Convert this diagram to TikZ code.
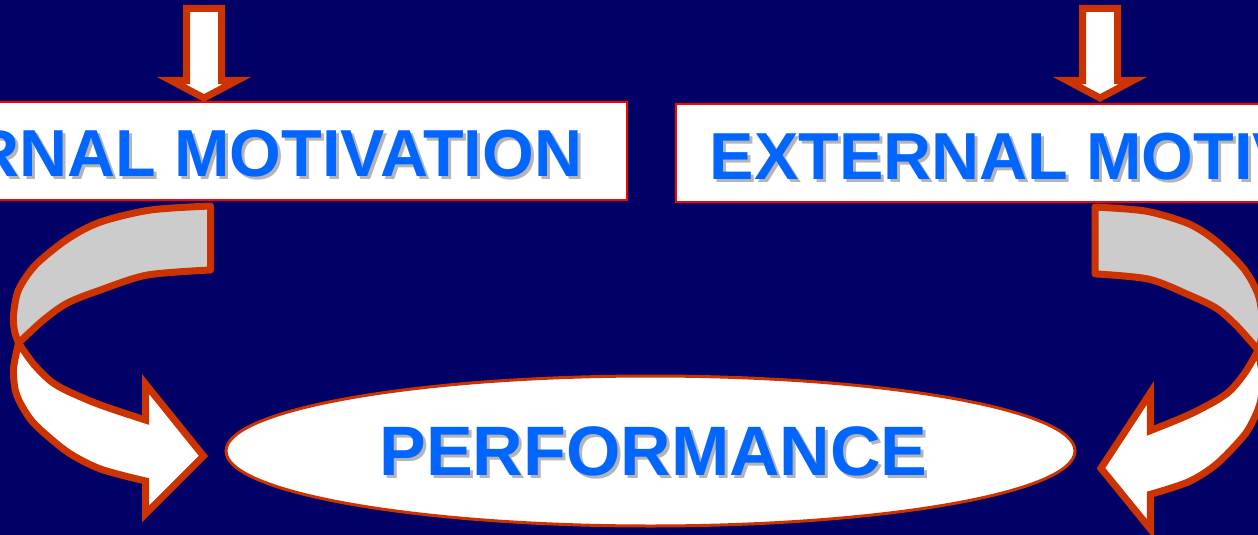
\documentclass[tikz,border=0pt]{standalone}
\usepackage{fontspec}
\setmainfont{Liberation Sans}
\usetikzlibrary{shapes.geometric}
\definecolor{navy}{HTML}{000066}
\definecolor{rust}{HTML}{CC3300}
\definecolor{labelblue}{HTML}{0066FF}
\definecolor{ribbongrey}{HTML}{CCCCCC}
\definecolor{shadowgrey}{HTML}{B4B4B4}
\definecolor{boxred}{HTML}{FF0000}

\tikzset{
  outline/.style={draw=rust, line width=7pt, line join=miter, miter limit=10},
  labelbox/.style={rectangle, draw=boxred, line width=2pt, fill=white,
    minimum width=852pt, minimum height=98pt, inner sep=0pt, outer sep=0pt},
  boxtext/.style={inner sep=0pt, font=\bfseries\fontsize{66.5}{78}\selectfont},
  bigtext/.style={inner sep=0pt, font=\bfseries\fontsize{70}{84}\selectfont},
  % straight block arrow pointing down, origin at its tip
  downarrow/.pic={
    \filldraw[outline, fill=white]
      (-17.5,-89.5) -- (17.5,-89.5) -- (17.5,-17.5) -- (33,-17.5) -- (0,0)
      -- (-33,-17.5) -- (-17.5,-17.5) -- cycle;
  },
  % twisted ribbon arrow, origin at the top of its flat end
  curvedarrow/.pic={
    \filldraw[outline, line join=round, fill=ribbongrey]
      plot[smooth] coordinates {(0,0) (-60,4) (-110,16) (-143,33) (-175,59)
        (-192,84) (-197,109) (-196,125) (-192,137)}
      -- plot[smooth] coordinates {(-192,137) (-167,114) (-143,97) (-110,84)
        (-63,69) (0,64)} -- cycle;
    \filldraw[outline, fill=white]
      plot[smooth] coordinates {(-192,137) (-197,163) (-195,185) (-188,201)
        (-175,219) (-143,246) (-110,263) (-65,275)}
      -- (-65,308) -- (-7,250) -- (-65,178) -- (-65,214)
      -- plot[smooth] coordinates {(-65,214) (-110,199) (-143,185) (-160,175)
        (-177,158) (-192,137)} -- cycle;
  }
}

\begin{document}
\begin{tikzpicture}[x=1pt, y=-1pt]
  \useasboundingbox (0,0) rectangle (1258,535);
  \fill[navy] (0,0) rectangle (1258,535);
  \clip (0,0) rectangle (1258,535);

  % label boxes
  \node[labelbox] (intbox) at (201,151) {};
  \node[labelbox] (extbox) at (1102,153) {};
  \node[boxtext, text=shadowgrey] (intshadow) at (204,156.5) {INTERNAL MOTIVATION};
  \node[boxtext, text=labelblue] (inttext) at (201,153.5) {INTERNAL MOTIVATION};
  \node[boxtext, text=shadowgrey] (extshadow) at (1105,159.5) {EXTERNAL MOTIVATION};
  \node[boxtext, text=labelblue] (exttext) at (1102,156.5) {EXTERNAL MOTIVATION};

  % arrows feeding the boxes
  \pic at (204,98) {downarrow};
  \pic at (1100,98) {downarrow};

  % ribbons curling down to the result
  \pic at (210.5,206) {curvedarrow};
  \pic[xscale=-0.85, yscale=1.045] at (1095,207) {curvedarrow};

  % result
  \node[ellipse, draw=rust, line width=3pt, fill=white, inner sep=0pt,
        minimum width=849pt, minimum height=150pt] (perf) at (650.5,451) {};
  \node[bigtext, text=shadowgrey] (perfshadow) at (656.5,454) {PERFORMANCE};
  \node[bigtext, text=labelblue] (perftext) at (653.5,451) {PERFORMANCE};
\end{tikzpicture}
\end{document}
